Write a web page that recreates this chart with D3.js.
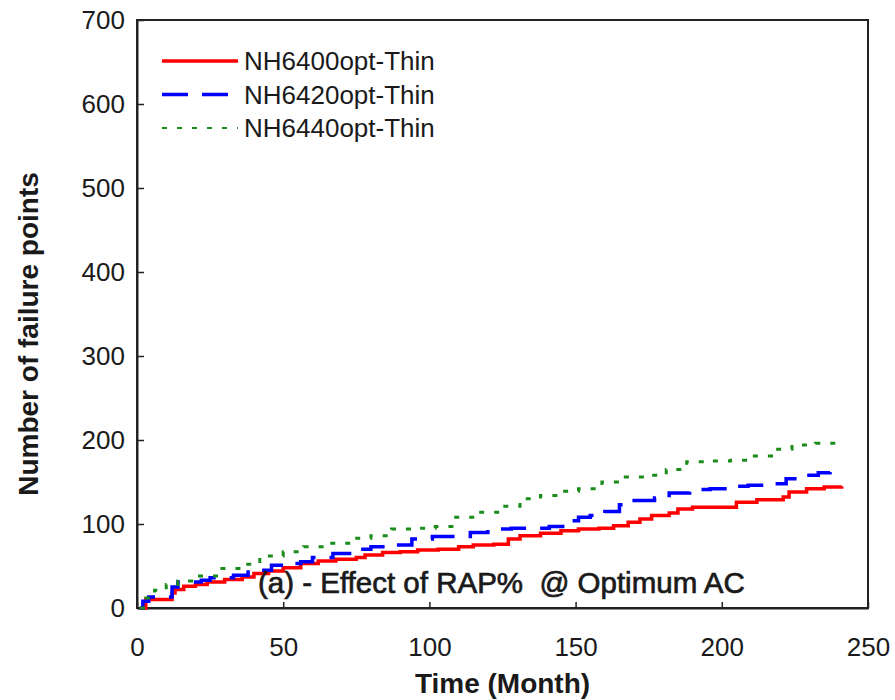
<!DOCTYPE html>
<html>
<head>
<meta charset="utf-8">
<script src="https://cdn.jsdelivr.net/npm/d3@7"></script>
<style>
  html, body { margin: 0; padding: 0; background: #fff; }
  svg { display: block; }
  text { font-family: "Liberation Sans", Arial, sans-serif; fill: #1a1a1a; }
</style>
</head>
<body>
<svg id="chart" width="895" height="700"></svg>
<script>
// Cumulative failure points over time: [month, count]
const nh6400 = [[2,0],[3,10],[11,10],[12,18],[13,22],[16,26],[20,28],[24,31],[30,34],[36,37],[40,41],[45,44],[50,48],[56,53],[62,56],[68,58],[75,60],[78,63],[84,66],[90,67],[96,69],[103,70],[110,73],[115,75],[122,76],[127,82],[131,86],[138,89],[145,92],[151,94],[158,95],[163,98],[168,102],[172,106],[176,110],[182,113],[185,118],[190,120],[202,120],[205,126],[212,129],[221,132],[223,138],[229,142],[235,144],[241,145]];
const nh6420 = [[1,0],[2,8],[4,13],[12,25],[14,31],[22,33],[25,36],[33,39],[38,43],[40,45],[46,51],[52,53],[56,55],[60,60],[67,65],[74,70],[80,73],[87,75],[94,82],[101,85],[108,85],[114,90],[120,94],[128,95],[141,97],[148,104],[151,108],[155,110],[160,115],[165,123],[168,128],[177,131],[182,137],[189,141],[196,142],[203,145],[209,146],[215,148],[222,154],[229,158],[233,161],[237,162]];
const nh6440 = [[1,0],[3,12],[6,21],[10,28],[14,32],[20,38],[28,47],[36,52],[42,62],[50,67],[57,73],[65,77],[73,83],[80,86],[87,94],[96,95],[102,97],[109,108],[116,114],[124,121],[131,130],[138,134],[144,139],[151,142],[159,150],[167,156],[174,158],[181,165],[188,174],[196,175],[203,176],[209,181],[217,189],[224,194],[232,196],[239,200],[240,200]];

const seriesNames = ["NH6400opt-Thin", "NH6420opt-Thin", "NH6440opt-Thin"];
const xTicks = [0, 50, 100, 150, 200, 250];
const yTicks = [0, 100, 200, 300, 400, 500, 600, 700];

const svg = d3.select("#chart");
const plotLeft = 137, plotRight = 868, plotTop = 20, plotBottom = 608;

const x = d3.scaleLinear().domain([0, 250]).range([plotLeft, plotRight]);
const y = d3.scaleLinear().domain([0, 700]).range([plotBottom, plotTop]);

// Frame
svg.append("rect")
  .attr("x", plotLeft).attr("y", plotTop)
  .attr("width", plotRight - plotLeft).attr("height", plotBottom - plotTop)
  .attr("fill", "none").attr("stroke", "#222").attr("stroke-width", 2);

// Axes with inward ticks
const xAxis = svg.append("g").attr("transform", `translate(0,${plotBottom})`)
  .call(d3.axisBottom(x).tickValues(xTicks).tickSizeInner(-6).tickSizeOuter(0).tickPadding(30));
const yAxis = svg.append("g").attr("transform", `translate(${plotLeft},0)`)
  .call(d3.axisLeft(y).tickValues(yTicks).tickSizeInner(-7).tickSizeOuter(0).tickPadding(12));
[xAxis, yAxis].forEach(g => {
  g.select(".domain").attr("stroke", "#222").attr("stroke-width", 2);
  g.selectAll(".tick line").attr("stroke", "#222").attr("stroke-width", 1.5);
  g.selectAll(".tick text").style("font-size", "26px").attr("fill", "#1a1a1a");
});

// Series
const line = d3.line().x(d => x(d[0])).y(d => y(d[1])).curve(d3.curveStepAfter);
const styles = [
  { data: nh6400, color: "#ff0000", width: 3.5, dash: null },
  { data: nh6420, color: "#0000ff", width: 3.5, dash: "26,14" },
  { data: nh6440, color: "#1a8c1a", width: 3, dash: "5,10" }
];
styles.forEach(s => {
  svg.append("path")
    .datum(s.data)
    .attr("d", line)
    .attr("fill", "none")
    .attr("stroke", s.color)
    .attr("stroke-width", s.width)
    .attr("stroke-dasharray", s.dash);
});

// Legend
const legend = svg.append("g");
styles.forEach((s, i) => {
  const ly = 61 + i * 33.5;
  legend.append("line")
    .attr("x1", 162).attr("x2", 238).attr("y1", ly).attr("y2", ly)
    .attr("stroke", s.color)
    .attr("stroke-width", i === 2 ? 2 : 3.5)
    .attr("stroke-dasharray", s.dash);
  legend.append("text")
    .attr("x", 244).attr("y", ly).attr("dy", "0.36em")
    .style("font-size", "26px")
    .text(seriesNames[i]);
});

// Annotation
svg.append("text")
  .attr("x", 258).attr("y", 593)
  .style("font-size", "29.5px")
  .style("white-space", "pre")
  .attr("stroke", "#1a1a1a").attr("stroke-width", 0.7)
  .text("(a) - Effect of RAP%  @ Optimum AC");

// Axis titles
svg.append("text")
  .attr("x", (plotLeft + plotRight) / 2).attr("y", 683).attr("dy", "0.36em")
  .attr("text-anchor", "middle")
  .style("font-size", "28px").style("font-weight", "bold")
  .text("Time (Month)");
svg.append("text")
  .attr("transform", `translate(28,${(plotTop + plotBottom) / 2 + 20}) rotate(-90)`)
  .attr("text-anchor", "middle").attr("dy", "0.36em")
  .style("font-size", "28px").style("font-weight", "bold")
  .text("Number of failure points");
</script>
</body>
</html>
